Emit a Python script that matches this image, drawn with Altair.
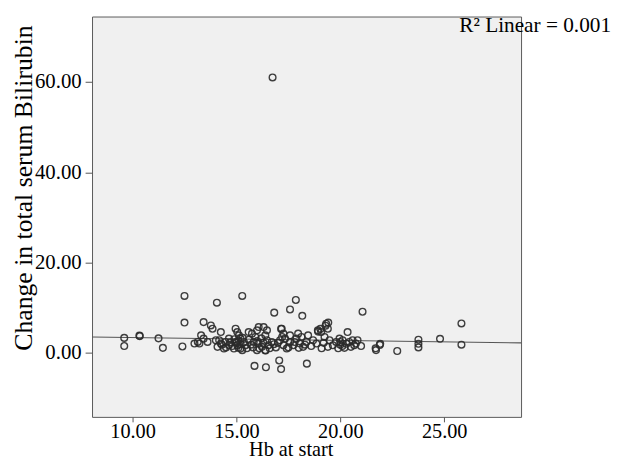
import altair as alt
import pandas as pd

# Hb at start (x) and change in total serum bilirubin (y)
hb_start = [
    9.60, 9.60, 10.33, 10.35, 11.25, 11.46, 12.40, 12.50, 12.50, 14.06,
    15.28, 15.87, 16.42, 17.15, 17.06, 18.39, 16.82, 17.58, 17.86, 18.17,
    17.15, 16.40, 16.74, 19.42, 19.29, 19.04, 18.93, 21.07, 21.00, 21.70,
    21.72, 21.90, 21.92, 22.74, 23.76, 23.76, 23.76, 24.80, 25.83, 25.83,
    13.42, 13.77, 13.85, 13.30, 13.14, 13.22, 12.98, 13.42, 13.61, 14.25,
    14.01, 14.17, 14.25, 14.09, 14.40, 14.48, 14.64, 14.64, 14.96, 15.04,
    15.12, 15.20, 14.96, 15.04, 15.20, 15.36, 15.44, 15.28, 14.88, 15.59,
    15.75, 15.99, 16.07, 16.31, 16.47, 16.39, 15.91, 15.83, 16.07, 16.23,
    15.99, 16.47, 16.55, 16.70, 16.39, 17.18, 17.26, 17.10, 17.26, 17.42,
    17.34, 17.58, 17.58, 17.74, 17.89, 17.97, 18.05, 18.21, 18.13, 18.37,
    18.45, 18.69, 18.85, 18.92, 19.08, 19.32, 19.40, 19.24, 19.48, 19.64,
    19.40, 19.80, 19.96, 20.11, 20.35, 20.43, 20.59, 20.67, 20.75, 20.51,
    20.83,
    14.30, 14.50, 14.70, 14.80, 14.90, 15.00, 15.10, 15.10, 15.20, 15.30,
    15.50, 15.60, 15.70, 15.80, 16.00, 16.10, 16.20, 16.30, 16.60, 16.80,
    16.90, 17.00, 17.20, 17.50, 17.80, 18.00, 18.30, 18.60, 19.10, 19.20,
    19.90, 20.00, 20.20, 20.30, 20.00, 20.10,
]
bili_change = [
    3.30, 1.50, 3.80, 3.70, 3.20, 1.10, 1.40, 12.60, 6.70, 11.10,
    12.60, -2.90, -3.20, -3.60, -1.70, -2.40, 8.90, 9.60, 11.70, 8.20,
    5.30, 0.50, 61.00, 6.70, 6.00, 5.30, 4.70, 9.10, 1.50, 1.00,
    0.60, 1.75, 2.00, 0.40, 2.90, 2.00, 1.20, 3.10, 6.50, 1.80,
    6.80, 6.06, 5.33, 3.87, 2.41, 2.05, 2.05, 3.14, 2.41, 4.60,
    2.78, 2.78, 2.05, 1.32, 0.95, 2.41, 3.14, 1.68, 5.33, 4.60,
    3.87, 3.14, 2.41, 1.68, 0.95, 2.41, 1.68, 0.59, 0.95, 4.60,
    4.24, 4.97, 5.70, 5.70, 4.97, 3.87, 3.51, 2.41, 2.05, 1.32,
    0.59, 2.78, 1.68, 2.41, 0.59, 5.33, 4.24, 2.78, 1.68, 0.95,
    3.14, 3.87, 2.41, 1.68, 3.14, 4.24, 2.05, 1.32, 3.51, 2.41,
    3.87, 2.78, 2.05, 4.97, 4.60, 6.43, 5.33, 3.51, 2.78, 1.68,
    1.32, 2.41, 3.14, 2.78, 4.60, 2.41, 2.78, 1.68, 2.05, 1.32,
    2.78,
    1.80, 1.20, 2.30, 1.50, 3.00, 2.20, 1.10, 2.70, 1.90, 3.30,
    1.00, 2.90, 1.80, 1.20, 2.60, 1.00, 3.20, 2.20, 1.00, 1.90,
    1.20, 2.20, 3.50, 1.20, 2.40, 1.10, 1.80, 1.50, 1.00, 2.20,
    1.00, 1.80, 1.10, 2.00, 2.40, 1.50,
]

# fitted linear line (as drawn), R² label
fit_intercept = 4.007
fit_slope = -0.063
r2_label = "R\u00b2 Linear = 0.001"

x_domain = [8.05, 28.7]
y_domain = [-14.2, 74.5]
x_ticks = [10, 15, 20, 25]
y_ticks = [0, 20, 40, 60]

pts = pd.DataFrame({"hb": hb_start, "bili": bili_change})
line_df = pd.DataFrame({"hb": x_domain,
                        "bili": [fit_intercept + fit_slope * v for v in x_domain]})

FONT = "Liberation Serif"

xs = alt.Scale(domain=x_domain, nice=False, zero=False)
ys = alt.Scale(domain=y_domain, nice=False, zero=False)

x_axis = alt.Axis(values=x_ticks, format=".2f", title="Hb at start",
                  grid=False, domain=False, tickSize=5, tickColor="#555",
                  labelFont=FONT, labelFontSize=20.5, labelColor="#000",
                  labelPadding=0, titleFont=FONT, titleFontSize=20.5,
                  titleFontWeight="normal", titleColor="#000",
                  titleX=201, titleY=43, titleBaseline="bottom")
y_axis = alt.Axis(values=y_ticks, format=".2f",
                  title="Change in total serum Bilirubin",
                  grid=False, domain=False, tickSize=7, tickColor="#555",
                  labelFont=FONT, labelFontSize=21, labelColor="#000",
                  labelPadding=4, titleFont=FONT, titleFontSize=26,
                  titleFontWeight="normal", titleColor="#000",
                  titleX=-61, titleY=173, titleBaseline="alphabetic",
                  titleAngle=270)

points = alt.Chart(pts).mark_point(
    shape="circle", filled=False, size=46, strokeWidth=1.4,
    color="#2b2b2b", opacity=0.9
).encode(
    x=alt.X("hb:Q", scale=xs, axis=x_axis),
    y=alt.Y("bili:Q", scale=ys, axis=y_axis),
)

fit = alt.Chart(line_df).mark_line(color="#555555", strokeWidth=1.1).encode(
    x=alt.X("hb:Q", scale=xs),
    y=alt.Y("bili:Q", scale=ys),
)

label = alt.Chart(pd.DataFrame({"t": [r2_label]})).mark_text(
    align="right", baseline="alphabetic", font=FONT, fontSize=21.5,
    color="#000"
).encode(
    text="t:N",
    x=alt.value(525),
    y=alt.value(16),
)

chart = alt.layer(fit, points, label).properties(
    width=434, height=405,
    autosize=alt.AutoSizeParams(type="none"),
    padding={"left": 85, "top": 6, "right": 93, "bottom": 43},
    background="white",
).configure_view(
    fill="#f0f0f0", stroke="#5a5a5a", strokeWidth=1
)

chart.save("out.html", embed_options={"renderer": "svg", "actions": False})
